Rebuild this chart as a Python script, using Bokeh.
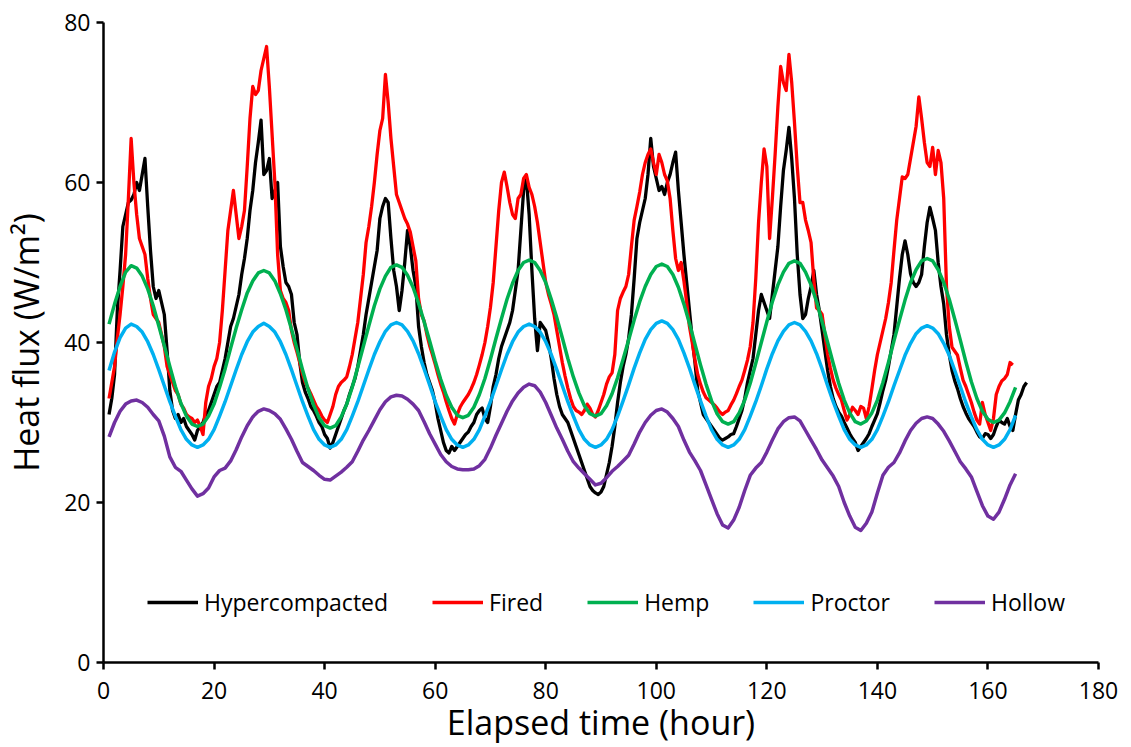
from bokeh.plotting import figure
from bokeh.models import Range1d, FixedTicker, Legend, LegendItem
from bokeh.embed import file_html
from bokeh.resources import INLINE

# ---------------- data ----------------
smooth_hours = list(range(1, 166))          # 1 h steps, hours 1..165

hemp = [
    42.3, 44.8, 47.0, 48.8, 49.6,
    49.3, 48.3, 46.7, 44.6, 42.1, 39.6, 37.0, 34.5, 32.4, 30.8, 29.8, 29.5,
    29.8, 30.8, 32.3, 34.4, 36.7, 39.3, 41.8, 44.1, 46.2, 47.7, 48.7, 49.0,
    48.7, 47.7, 46.1, 44.1, 41.7, 39.2, 36.6, 34.2, 32.2, 30.6, 29.6, 29.3,
    29.6, 30.7, 32.3, 34.4, 36.9, 39.5, 42.1, 44.6, 46.7, 48.3, 49.4, 49.7,
    49.4, 48.4, 46.9, 44.9, 42.6, 40.2, 37.7, 35.4, 33.4, 31.9, 30.9, 30.6,
    30.9, 31.9, 33.5, 35.5, 37.9, 40.5, 43.0, 45.4, 47.4, 49.0, 50.0, 50.3,
    50.0, 49.0, 47.5, 45.4, 43.1, 40.6, 38.0, 35.7, 33.7, 32.1, 31.1, 30.8,
    31.1, 32.1, 33.6, 35.6, 37.9, 40.3, 42.8, 45.1, 47.0, 48.5, 49.5, 49.8,
    49.5, 48.5, 46.9, 44.8, 42.4, 39.8, 37.2, 34.8, 32.7, 31.1, 30.1, 29.8,
    30.1, 31.2, 32.8, 34.9, 37.4, 40.0, 42.6, 45.1, 47.2, 48.8, 49.9, 50.2,
    49.9, 48.8, 47.2, 45.1, 42.6, 40.0, 37.4, 34.9, 32.8, 31.2, 30.1, 29.8,
    30.2, 31.2, 32.8, 35.0, 37.5, 40.2, 42.8, 45.3, 47.5, 49.1, 50.2, 50.5,
    50.2, 49.1, 47.5, 45.4, 42.9, 40.3, 37.6, 35.1, 33.0, 31.4, 30.4, 30.0,
    30.3, 31.2, 32.6, 34.4,
]

proctor = [
    36.5, 38.8, 40.6, 41.8, 42.3,
    42.0, 41.3, 40.1, 38.5, 36.6, 34.6, 32.6, 30.8, 29.1, 27.9, 27.2, 26.9,
    27.2, 27.9, 29.1, 30.8, 32.6, 34.6, 36.6, 38.5, 40.1, 41.3, 42.0, 42.4,
    42.0, 41.3, 40.1, 38.5, 36.6, 34.6, 32.6, 30.8, 29.1, 27.9, 27.2, 26.9,
    27.2, 27.9, 29.1, 30.8, 32.6, 34.6, 36.6, 38.5, 40.1, 41.4, 42.2, 42.5,
    42.2, 41.4, 40.2, 38.6, 36.7, 34.7, 32.6, 30.8, 29.1, 27.9, 27.2, 26.9,
    27.2, 27.9, 29.1, 30.8, 32.6, 34.6, 36.6, 38.5, 40.1, 41.3, 42.0, 42.3,
    42.0, 41.3, 40.1, 38.5, 36.6, 34.6, 32.6, 30.8, 29.1, 27.9, 27.2, 26.9,
    27.2, 27.9, 29.1, 30.8, 32.7, 34.7, 36.8, 38.7, 40.4, 41.6, 42.4, 42.7,
    42.4, 41.6, 40.4, 38.7, 36.8, 34.7, 32.7, 30.8, 29.1, 27.9, 27.2, 26.9,
    27.2, 27.9, 29.1, 30.8, 32.6, 34.6, 36.7, 38.6, 40.2, 41.4, 42.2, 42.5,
    42.2, 41.4, 40.2, 38.6, 36.7, 34.6, 32.6, 30.8, 29.1, 27.9, 27.2, 26.9,
    27.2, 27.9, 29.1, 30.8, 32.6, 34.6, 36.5, 38.4, 39.9, 41.1, 41.8, 42.1,
    41.8, 41.1, 39.9, 38.4, 36.5, 34.5, 32.5, 30.7, 29.1, 27.9, 27.2, 26.9,
    27.2, 27.9, 29.1, 30.9,
]

hollow = [
    28.2, 30.0, 31.4, 32.3, 32.7, 32.8, 32.5, 31.9, 31.0, 30.2, 28.3, 25.7,
    24.4, 23.9, 22.8, 21.7, 20.8, 21.1, 21.8, 23.2, 24.0, 24.3, 25.2, 26.6,
    28.2, 29.6, 30.7, 31.4, 31.7, 31.5, 31.1, 30.4, 29.2, 27.9, 26.4, 25.0,
    24.5, 24.0, 23.4, 22.9, 22.8, 23.3, 23.8, 24.4, 25.1, 26.4, 27.8, 29.0,
    30.3, 31.6, 32.6, 33.2, 33.4, 33.3, 32.9, 32.3, 31.5, 30.1, 28.6, 27.3,
    26.0, 25.1, 24.5, 24.2, 24.1, 24.1, 24.2, 24.6, 25.4, 26.8, 28.4, 29.9,
    31.4, 32.7, 33.7, 34.4, 34.8, 34.6, 33.8, 32.5, 30.9, 29.3, 27.9, 26.4,
    25.1, 24.3, 23.6, 22.9, 22.2, 22.4, 23.1, 23.9, 24.5, 25.2, 25.9, 27.3,
    28.8, 30.0, 30.9, 31.5, 31.7, 31.3, 30.5, 29.5, 27.8, 26.3, 25.2, 24.0,
    22.2, 20.4, 18.6, 17.2, 16.8, 17.8, 19.4, 21.5, 23.4, 24.3, 25.0, 26.3,
    27.8, 29.2, 30.1, 30.6, 30.7, 30.2, 29.0, 27.8, 26.6, 25.3, 24.3, 23.3,
    22.0, 20.0, 18.3, 16.9, 16.5, 17.4, 18.8, 21.2, 23.4, 24.4, 25.0, 26.2,
    27.7, 29.0, 29.9, 30.5, 30.7, 30.5, 29.8, 28.9, 27.7, 26.4, 25.1, 24.2,
    23.2, 21.4, 19.6, 18.3, 17.9, 18.8, 20.4, 22.2, 23.6,
]

# noisy series: half-hour readings starting at hour 1.0
hypercompacted = [
    31.0, 33.0, 36.0, 44.0, 49.0, 54.5, 56.0, 57.5, 57.8, 58.5, 60.0, 59.0, 61.0, 63.0, 57.0, 51.5, 47.0, 45.5, 46.5, 45.0, 43.5, 39.0, 34.0, 31.5,
    30.5, 31.0, 30.0, 30.5, 29.5, 29.0, 28.5, 27.8, 29.0, 29.5, 30.0, 31.0, 31.5, 32.5, 33.5, 34.5, 35.0, 36.5, 38.0, 40.0, 42.0, 43.0, 44.5, 46.0,
    48.5, 50.5, 53.0, 56.5, 59.0, 62.5, 65.0, 67.8, 61.0, 61.5, 63.0, 58.0, 59.0, 60.0, 52.0, 49.5, 47.5, 47.0, 46.0, 42.5, 41.0, 37.5, 35.0, 33.8,
    33.0, 32.0, 31.5, 30.8, 30.0, 29.5, 28.5, 28.0, 26.8, 27.5, 28.5, 29.5, 30.5, 31.5, 32.3, 33.5, 34.5, 35.5, 37.0, 39.0, 41.0, 43.5, 45.5, 47.5,
    49.5, 51.5, 55.5, 57.0, 58.0, 57.5, 53.0, 49.0, 47.0, 44.0, 46.5, 50.0, 54.0, 52.0, 49.0, 47.0, 42.0, 39.5, 37.5, 36.0, 35.0, 34.0, 32.5, 30.5,
    29.0, 27.5, 26.5, 26.2, 27.0, 26.5, 27.0, 27.5, 28.0, 28.5, 28.8, 29.5, 30.0, 31.0, 31.5, 31.8, 30.5, 30.0, 32.0, 34.5, 36.0, 38.0, 39.5, 40.5,
    41.5, 42.5, 44.0, 46.5, 49.0, 54.0, 59.0, 60.5, 56.0, 49.0, 43.0, 39.0, 42.5, 42.0, 41.5, 40.0, 38.0, 35.5, 33.5, 32.0, 31.0, 30.5, 30.0, 29.0,
    28.0, 27.0, 26.0, 25.0, 24.0, 23.0, 22.0, 21.5, 21.2, 21.0, 21.3, 22.0, 23.5, 25.0, 27.0, 29.5, 32.5, 35.0, 37.0, 38.5, 40.5, 43.5, 48.0, 53.0,
    55.0, 56.5, 58.0, 61.0, 65.5, 62.0, 60.5, 59.0, 59.5, 58.5, 60.0, 61.0, 62.5, 63.8, 59.0, 55.0, 51.0, 47.5, 44.0, 40.5, 37.5, 34.0, 32.5, 31.0,
    30.5, 30.0, 29.5, 29.0, 28.5, 28.0, 27.8, 28.0, 28.2, 28.5, 28.6, 29.5, 30.5, 31.5, 33.0, 35.0, 36.5, 38.0, 41.0, 44.0, 46.0, 45.0, 44.0, 43.0,
    46.0, 49.0, 52.0, 57.0, 61.5, 64.0, 66.9, 63.0, 58.0, 51.0, 46.0, 43.0, 43.5, 45.5, 47.0, 49.0, 46.0, 44.0, 41.5, 39.0, 36.5, 34.5, 33.0, 32.0,
    31.3, 30.8, 30.0, 29.3, 28.6, 28.0, 27.5, 26.5, 27.0, 27.5, 28.0, 28.6, 29.5, 30.3, 31.1, 32.5, 34.0, 35.3, 37.0, 39.0, 41.0, 44.5, 48.0, 51.0,
    52.7, 51.0, 48.6, 47.5, 47.0, 47.5, 48.5, 52.0, 55.0, 56.9, 55.5, 54.0, 50.0, 47.0, 44.8, 41.0, 38.5, 36.5, 35.2, 34.2, 33.0, 32.0, 31.2, 30.5,
    30.0, 29.5, 28.8, 28.2, 28.0, 28.6, 28.5, 28.0, 28.5, 29.5, 30.3, 30.0, 29.8, 30.5, 29.5, 29.0, 31.0, 32.8, 33.5, 34.5, 35.0,
]

fired = [
    33.0, 35.0, 37.0, 40.5, 43.5, 47.0, 51.0, 58.0, 65.5, 60.0, 56.0, 53.0, 52.0, 51.0, 48.0, 45.5, 43.5, 43.0, 42.5, 41.0, 39.5, 37.0, 36.0, 35.0,
    34.0, 33.5, 32.3, 31.8, 31.0, 30.7, 30.5, 30.0, 30.3, 29.5, 28.5, 32.5, 34.5, 35.5, 37.0, 38.0, 40.0, 44.0, 49.0, 54.0, 56.5, 59.0, 56.0, 53.0,
    54.5, 56.5, 62.0, 68.0, 72.0, 71.0, 71.5, 74.0, 75.5, 77.0, 72.0, 66.0, 60.0, 51.0, 46.5, 45.5, 45.0, 44.0, 41.5, 40.0, 38.8, 37.5, 36.1, 35.0,
    34.3, 33.6, 32.8, 32.0, 31.5, 30.8, 30.3, 30.0, 31.0, 32.0, 33.5, 34.5, 35.0, 35.3, 35.7, 37.0, 38.5, 40.5, 42.5, 45.5, 48.5, 52.5, 54.5, 57.0,
    60.0, 63.5, 66.5, 68.0, 73.5, 70.0, 65.5, 62.0, 58.5, 57.5, 56.5, 55.5, 54.8, 53.8, 52.0, 50.2, 45.5, 43.5, 42.7, 41.0, 39.6, 38.5, 37.3, 36.0,
    34.8, 33.8, 32.6, 31.5, 30.5, 29.8, 31.0, 31.9, 32.5, 33.0, 33.5, 34.2, 35.0, 36.0, 37.2, 38.5, 40.0, 42.0, 44.4, 47.5, 52.0, 56.5, 60.0, 61.3,
    59.5, 57.5, 56.0, 55.5, 58.0, 58.5, 60.5, 61.0, 59.4, 58.5, 57.0, 55.0, 52.5, 50.0, 47.5, 46.0, 44.8, 43.5, 41.5, 39.5, 37.5, 35.8, 34.3, 33.0,
    32.0, 31.5, 31.3, 31.0, 31.5, 32.3, 31.8, 31.0, 30.7, 31.5, 32.5, 33.5, 34.8, 35.7, 36.2, 38.5, 44.0, 45.5, 46.3, 47.0, 48.5, 52.0, 55.3, 57.0,
    58.8, 61.0, 62.5, 63.5, 64.2, 62.5, 61.0, 63.5, 62.5, 61.0, 60.2, 58.0, 54.0, 50.5, 49.0, 50.0, 47.7, 45.0, 42.0, 40.0, 37.8, 36.0, 34.8, 33.8,
    33.1, 32.8, 32.5, 32.2, 31.8, 31.3, 31.0, 31.3, 31.5, 32.2, 32.8, 33.6, 34.5, 35.3, 36.5, 37.8, 39.5, 42.5, 48.0, 55.0, 60.0, 64.2, 62.0, 53.0,
    58.0, 63.5, 69.5, 74.5, 72.5, 71.5, 76.0, 72.5, 67.5, 62.0, 57.5, 57.5, 55.3, 54.0, 52.5, 47.8, 44.3, 44.0, 43.5, 41.0, 38.5, 36.8, 35.3, 34.3,
    33.5, 32.8, 31.5, 30.3, 31.0, 31.9, 31.5, 31.0, 32.0, 31.8, 30.5, 32.0, 34.2, 36.5, 38.5, 40.0, 41.5, 43.0, 45.0, 47.5, 51.5, 55.3, 58.0, 60.7,
    60.5, 61.0, 63.0, 65.0, 67.0, 70.7, 68.0, 65.0, 62.5, 62.0, 64.4, 61.0, 64.0, 62.5, 58.0, 47.0, 42.0, 39.4, 38.9, 38.4, 36.8, 35.3, 34.5, 33.5,
    32.5, 31.3, 30.3, 29.8, 32.5, 31.0, 30.0, 29.0, 30.5, 33.5, 34.5, 35.2, 35.5, 36.0, 37.5, 37.2,
]

hyper_hours = [1.0 + 0.5 * i for i in range(len(hypercompacted))]
fired_hours = [1.0 + 0.5 * i for i in range(len(fired))]

series_names = ["Hypercompacted", "Fired", "Hemp", "Proctor", "Hollow"]
x_ticks = [0, 20, 40, 60, 80, 100, 120, 140, 160, 180]
y_ticks = [0, 20, 40, 60, 80]

# ---------------- figure ----------------
FONT = "Open Sans"
p = figure(frame_width=995, frame_height=640,
           x_range=Range1d(0, 180), y_range=Range1d(0, 80),
           output_backend="svg", toolbar_location=None,
           min_border_left=98, min_border_top=22,
           min_border_right=22, min_border_bottom=69)
p.outline_line_color = None
p.xgrid.visible = False
p.ygrid.visible = False
p.background_fill_color = "white"
p.border_fill_color = "white"

r_hyp = p.line(hyper_hours, hypercompacted, line_color="#000000", line_width=3.3, line_join="round")
r_fir = p.line(fired_hours, fired, line_color="#FF0000", line_width=3.3, line_join="round")
r_hem = p.line(smooth_hours, hemp, line_color="#00B050", line_width=3.5, line_join="round")
r_pro = p.line(smooth_hours, proctor, line_color="#00B0F0", line_width=3.5, line_join="round")
r_hol = p.line(smooth_hours, hollow, line_color="#7030A0", line_width=3.5, line_join="round")

for ax, ticks in ((p.xaxis, x_ticks), (p.yaxis, y_ticks)):
    ax.ticker = FixedTicker(ticks=ticks)
    ax.axis_line_color = "black"
    ax.axis_line_width = 2.5
    ax.major_tick_line_color = "black"
    ax.major_tick_line_width = 2.5
    ax.major_tick_in = 0
    ax.major_tick_out = 7
    ax.minor_tick_line_color = None
    ax.major_label_text_font = FONT
    ax.major_label_text_font_size = "23px"
    ax.major_label_text_color = "black"
    ax.axis_label_text_font = FONT
    ax.axis_label_text_font_size = "34px"
    ax.axis_label_text_font_style = "normal"
    ax.axis_label_text_color = "black"

p.xaxis.axis_label = "Elapsed time (hour)"
p.yaxis.axis_label = "Heat flux (W/m\u00b2)"
p.xaxis.major_label_standoff = 12
p.yaxis.major_label_standoff = 6
p.xaxis.axis_label_standoff = -3
p.yaxis.axis_label_standoff = 12

legend = Legend(
    items=[LegendItem(label=n, renderers=[r]) for n, r in
           zip(series_names, [r_hyp, r_fir, r_hem, r_pro, r_hol])],
    orientation="horizontal", location=(44, 44),
    border_line_color=None, background_fill_alpha=0,
    padding=0, margin=0, spacing=44, glyph_width=51, label_standoff=6,
    label_text_font=FONT, label_text_font_size="23px", label_text_color="black",
)
p.add_layout(legend)

open("out.html", "w").write(file_html(p, INLINE))
